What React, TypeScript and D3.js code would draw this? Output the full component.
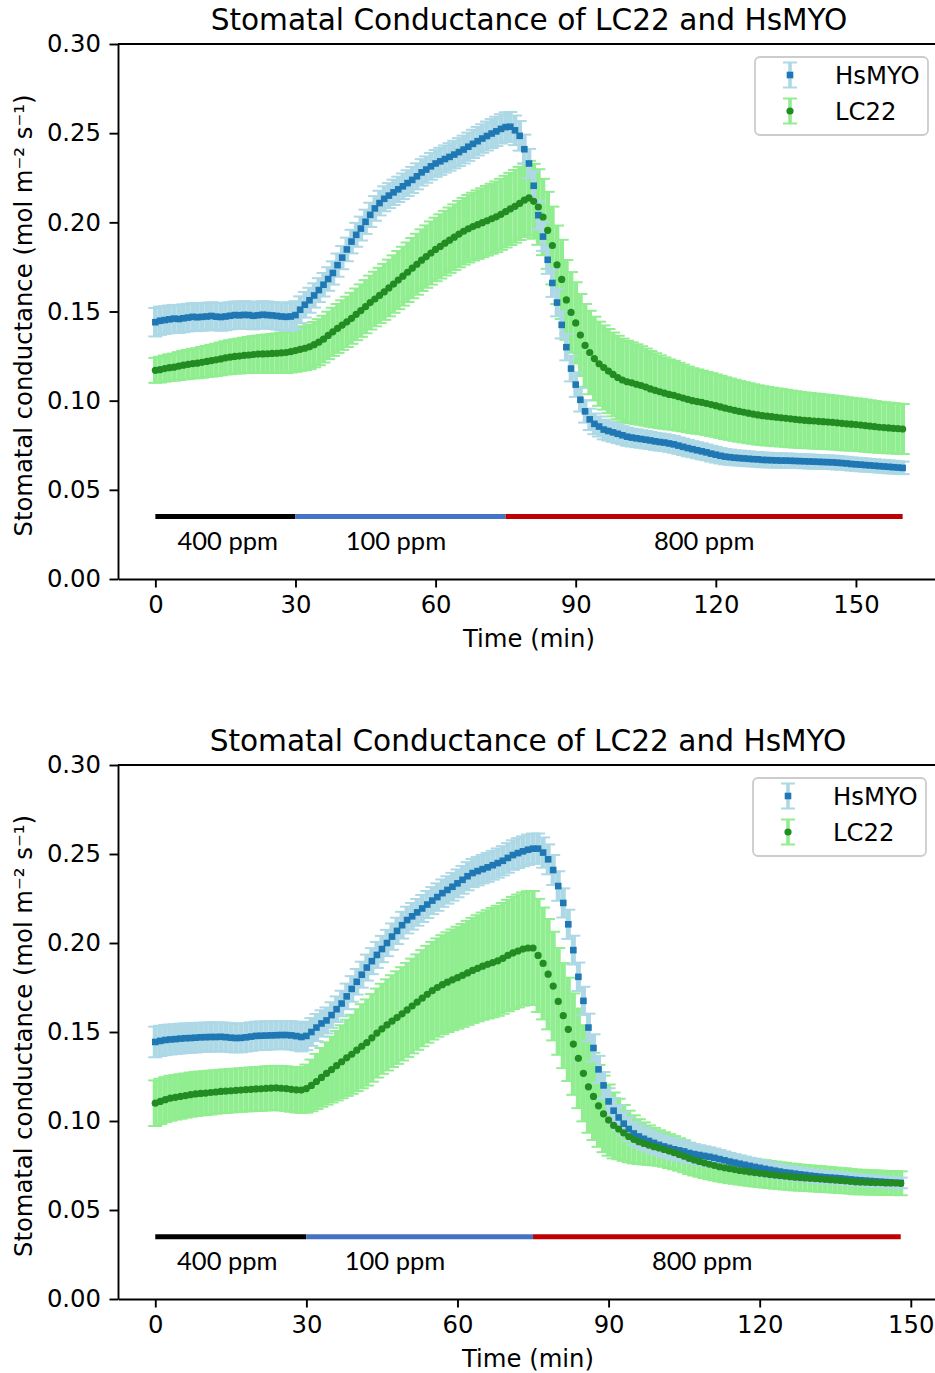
import { useEffect, useRef } from 'react';
import * as d3 from 'd3';

// Stomatal conductance, LC22 vs HsMYO – one reading per minute
const TITLE = 'Stomatal Conductance of LC22 and HsMYO';
const Y_LABEL = 'Stomatal conductance (mol m\u207B\u00B2 s\u207B\u00B9)';
const X_LABEL = 'Time (min)';
const SERIES = ['HsMYO', 'LC22'];
const Y_TICKS = [0, 0.05, 0.1, 0.15, 0.2, 0.25, 0.3];
const X_TICKS = [0, 30, 60, 90, 120, 150];

// CO2 steps
const ppmLabels = ['400 ppm', '100 ppm', '800 ppm'];
const ppmColors = ['#000000', '#4472C4', '#C00000'];
const ppmLevel = 0.035;
const ppmEdges1 = [0, 30, 75, 160];
const ppmEdges2 = [0, 30, 75, 148];
const ppmLabelAt1 = [15.5, 51.5, 117.5];
const ppmLabelAt2 = [14.3, 47.6, 108.6];

// ---- top panel (0–160 min) ----
const hsmyo1 = [
  0.1440, 0.1448, 0.1452, 0.1456, 0.1460, 0.1458, 0.1462, 0.1466, 0.1470, 0.1468,
  0.1470, 0.1472, 0.1475, 0.1471, 0.1469, 0.1472, 0.1476, 0.1480, 0.1479, 0.1481,
  0.1480, 0.1476, 0.1479, 0.1482, 0.1480, 0.1478, 0.1475, 0.1472, 0.1470, 0.1472,
  0.1480, 0.1510, 0.1538, 0.1563, 0.1590, 0.1620, 0.1650, 0.1682, 0.1716, 0.1760,
  0.1802, 0.1848, 0.1892, 0.1930, 0.1965, 0.2003, 0.2042, 0.2078, 0.2108, 0.2132,
  0.2150, 0.2168, 0.2185, 0.2202, 0.2220, 0.2238, 0.2258, 0.2280, 0.2296, 0.2314,
  0.2330, 0.2342, 0.2355, 0.2367, 0.2380, 0.2394, 0.2408, 0.2424, 0.2440, 0.2455,
  0.2470, 0.2484, 0.2498, 0.2510, 0.2524, 0.2534, 0.2536, 0.2516, 0.2485, 0.2410,
  0.2330, 0.2205, 0.2040, 0.1920, 0.1790, 0.1660, 0.1550, 0.1425, 0.1300, 0.1180,
  0.1090, 0.1005, 0.0940, 0.0895, 0.0870, 0.0855, 0.0838, 0.0830, 0.0822, 0.0814,
  0.0806, 0.0798, 0.0793, 0.0789, 0.0785, 0.0781, 0.0777, 0.0772, 0.0768, 0.0765,
  0.0760, 0.0755, 0.0748, 0.0741, 0.0734, 0.0728, 0.0722, 0.0716, 0.0710, 0.0703,
  0.0697, 0.0691, 0.0686, 0.0683, 0.0680, 0.0678, 0.0676, 0.0674, 0.0672, 0.0671,
  0.0668, 0.0667, 0.0666, 0.0665, 0.0664, 0.0664, 0.0663, 0.0662, 0.0661, 0.0660,
  0.0659, 0.0658, 0.0657, 0.0656, 0.0655, 0.0654, 0.0652, 0.0650, 0.0648, 0.0645,
  0.0643, 0.0641, 0.0639, 0.0637, 0.0635, 0.0633, 0.0631, 0.0629, 0.0627, 0.0625, 0.0623,
];
const hsmyoErr1 = [
  0.0080, 0.0079, 0.0078, 0.0078, 0.0077, 0.0078, 0.0078, 0.0077, 0.0077, 0.0078,
  0.0078, 0.0077, 0.0077, 0.0076, 0.0077, 0.0077, 0.0076, 0.0076, 0.0077, 0.0077,
  0.0076, 0.0076, 0.0075, 0.0076, 0.0076, 0.0075, 0.0076, 0.0077, 0.0078, 0.0080,
  0.0078, 0.0075, 0.0072, 0.0070, 0.0068, 0.0067, 0.0066, 0.0066, 0.0065, 0.0065,
  0.0065, 0.0066, 0.0066, 0.0067, 0.0067, 0.0068, 0.0068, 0.0069, 0.0069, 0.0070,
  0.0070, 0.0071, 0.0071, 0.0072, 0.0072, 0.0073, 0.0073, 0.0074, 0.0074, 0.0075,
  0.0075, 0.0076, 0.0076, 0.0077, 0.0077, 0.0078, 0.0078, 0.0079, 0.0079, 0.0080,
  0.0080, 0.0081, 0.0081, 0.0082, 0.0082, 0.0083, 0.0083, 0.0083, 0.0083, 0.0082,
  0.0082, 0.0081, 0.0080, 0.0080, 0.0079, 0.0078, 0.0077, 0.0076, 0.0074, 0.0072,
  0.0069, 0.0066, 0.0063, 0.0060, 0.0058, 0.0056, 0.0055, 0.0054, 0.0053, 0.0052,
  0.0051, 0.0051, 0.0050, 0.0050, 0.0049, 0.0049, 0.0048, 0.0048, 0.0048, 0.0047,
  0.0047, 0.0047, 0.0046, 0.0046, 0.0046, 0.0045, 0.0045, 0.0045, 0.0044, 0.0044,
  0.0044, 0.0043, 0.0043, 0.0043, 0.0042, 0.0042, 0.0042, 0.0042, 0.0041, 0.0041,
  0.0041, 0.0041, 0.0040, 0.0040, 0.0040, 0.0040, 0.0040, 0.0039, 0.0039, 0.0039,
  0.0039, 0.0039, 0.0038, 0.0038, 0.0038, 0.0038, 0.0038, 0.0037, 0.0037, 0.0037,
  0.0037, 0.0037, 0.0037, 0.0036, 0.0036, 0.0036, 0.0036, 0.0036, 0.0036, 0.0035, 0.0035,
];
const lc22_1 = [
  0.1170, 0.1174, 0.1180, 0.1185, 0.1188, 0.1194, 0.1199, 0.1203, 0.1208, 0.1210,
  0.1215, 0.1220, 0.1224, 0.1229, 0.1234, 0.1240, 0.1244, 0.1248, 0.1250, 0.1254,
  0.1256, 0.1259, 0.1261, 0.1262, 0.1263, 0.1265, 0.1266, 0.1268, 0.1270, 0.1275,
  0.1281, 0.1288, 0.1294, 0.1302, 0.1314, 0.1328, 0.1345, 0.1366, 0.1386, 0.1405,
  0.1424, 0.1442, 0.1462, 0.1484, 0.1505, 0.1527, 0.1550, 0.1570, 0.1590, 0.1610,
  0.1632, 0.1654, 0.1676, 0.1698, 0.1720, 0.1743, 0.1765, 0.1788, 0.1808, 0.1828,
  0.1848, 0.1865, 0.1883, 0.1900, 0.1917, 0.1934, 0.1950, 0.1964, 0.1976, 0.1987,
  0.1998, 0.2009, 0.2020, 0.2031, 0.2045, 0.2060, 0.2075, 0.2090, 0.2106, 0.2124,
  0.2137, 0.2118, 0.2086, 0.2030, 0.1955, 0.1870, 0.1762, 0.1680, 0.1565, 0.1495,
  0.1436, 0.1368, 0.1310, 0.1270, 0.1236, 0.1207, 0.1186, 0.1166, 0.1147, 0.1130,
  0.1116, 0.1106, 0.1100, 0.1092, 0.1085, 0.1076, 0.1066, 0.1058, 0.1050, 0.1042,
  0.1035, 0.1030, 0.1022, 0.1015, 0.1007, 0.1000, 0.0995, 0.0990, 0.0984, 0.0978,
  0.0972, 0.0965, 0.0958, 0.0952, 0.0946, 0.0940, 0.0935, 0.0930, 0.0925, 0.0920,
  0.0916, 0.0913, 0.0910, 0.0907, 0.0904, 0.0901, 0.0898, 0.0895, 0.0892, 0.0890,
  0.0888, 0.0886, 0.0884, 0.0882, 0.0880, 0.0878, 0.0876, 0.0873, 0.0870, 0.0868,
  0.0866, 0.0863, 0.0860, 0.0857, 0.0854, 0.0851, 0.0849, 0.0847, 0.0845, 0.0843, 0.0841,
];
const lc22Err1 = [
  0.0070, 0.0072, 0.0073, 0.0075, 0.0076, 0.0078, 0.0080, 0.0081, 0.0083, 0.0084,
  0.0086, 0.0087, 0.0089, 0.0090, 0.0092, 0.0093, 0.0095, 0.0096, 0.0098, 0.0099,
  0.0101, 0.0103, 0.0104, 0.0106, 0.0108, 0.0109, 0.0111, 0.0113, 0.0115, 0.0117,
  0.0119, 0.0121, 0.0123, 0.0125, 0.0127, 0.0129, 0.0131, 0.0133, 0.0135, 0.0137,
  0.0139, 0.0141, 0.0143, 0.0145, 0.0147, 0.0149, 0.0151, 0.0153, 0.0155, 0.0157,
  0.0159, 0.0161, 0.0163, 0.0165, 0.0167, 0.0169, 0.0171, 0.0173, 0.0175, 0.0177,
  0.0178, 0.0180, 0.0181, 0.0183, 0.0184, 0.0186, 0.0187, 0.0189, 0.0190, 0.0192,
  0.0193, 0.0195, 0.0196, 0.0198, 0.0199, 0.0201, 0.0202, 0.0204, 0.0205, 0.0207,
  0.0208, 0.0210, 0.0212, 0.0214, 0.0216, 0.0218, 0.0220, 0.0222, 0.0224, 0.0226,
  0.0228, 0.0230, 0.0232, 0.0234, 0.0235, 0.0236, 0.0236, 0.0236, 0.0235, 0.0234,
  0.0232, 0.0230, 0.0227, 0.0224, 0.0220, 0.0216, 0.0212, 0.0208, 0.0204, 0.0200,
  0.0196, 0.0193, 0.0190, 0.0187, 0.0184, 0.0182, 0.0180, 0.0178, 0.0177, 0.0176,
  0.0175, 0.0174, 0.0173, 0.0172, 0.0171, 0.0170, 0.0169, 0.0168, 0.0167, 0.0166,
  0.0165, 0.0164, 0.0163, 0.0162, 0.0161, 0.0160, 0.0159, 0.0158, 0.0157, 0.0156,
  0.0155, 0.0154, 0.0154, 0.0153, 0.0152, 0.0151, 0.0150, 0.0150, 0.0149, 0.0148,
  0.0147, 0.0146, 0.0146, 0.0145, 0.0144, 0.0143, 0.0142, 0.0142, 0.0141, 0.0140, 0.0140,
];

// ---- bottom panel (0–148 min) ----
const hsmyo2 = [
  0.1444, 0.1450, 0.1455, 0.1458, 0.1460, 0.1463, 0.1465, 0.1466, 0.1468, 0.1470,
  0.1471, 0.1472, 0.1472, 0.1473, 0.1471, 0.1468, 0.1466, 0.1467, 0.1470, 0.1474,
  0.1478, 0.1479, 0.1480, 0.1481, 0.1482, 0.1483, 0.1483, 0.1481, 0.1477, 0.1472,
  0.1478, 0.1500, 0.1525, 0.1548, 0.1565, 0.1595, 0.1628, 0.1660, 0.1700, 0.1742,
  0.1782, 0.1822, 0.1862, 0.1898, 0.1933, 0.1966, 0.2000, 0.2036, 0.2068, 0.2100,
  0.2129, 0.2150, 0.2172, 0.2194, 0.2216, 0.2238, 0.2258, 0.2280, 0.2298, 0.2316,
  0.2335, 0.2355, 0.2375, 0.2393, 0.2404, 0.2415, 0.2425, 0.2437, 0.2449, 0.2462,
  0.2478, 0.2494, 0.2505, 0.2515, 0.2524, 0.2530, 0.2530, 0.2508, 0.2470, 0.2410,
  0.2320, 0.2225, 0.2105, 0.1960, 0.1810, 0.1675, 0.1525, 0.1410, 0.1290, 0.1200,
  0.1110, 0.1058, 0.1020, 0.0985, 0.0955, 0.0930, 0.0913, 0.0900, 0.0888, 0.0877,
  0.0866, 0.0857, 0.0849, 0.0841, 0.0835, 0.0829, 0.0820, 0.0814, 0.0809, 0.0804,
  0.0799, 0.0793, 0.0786, 0.0779, 0.0772, 0.0766, 0.0760, 0.0754, 0.0748, 0.0742,
  0.0737, 0.0731, 0.0726, 0.0721, 0.0716, 0.0711, 0.0708, 0.0704, 0.0700, 0.0697,
  0.0693, 0.0690, 0.0687, 0.0684, 0.0682, 0.0680, 0.0678, 0.0675, 0.0672, 0.0669,
  0.0667, 0.0665, 0.0663, 0.0661, 0.0659, 0.0657, 0.0655, 0.0653, 0.0652,
];
const hsmyoErr2 = [
  0.0086, 0.0085, 0.0085, 0.0084, 0.0084, 0.0084, 0.0083, 0.0083, 0.0083, 0.0082,
  0.0082, 0.0082, 0.0082, 0.0081, 0.0081, 0.0081, 0.0081, 0.0081, 0.0080, 0.0080,
  0.0080, 0.0080, 0.0080, 0.0079, 0.0079, 0.0079, 0.0079, 0.0080, 0.0080, 0.0081,
  0.0080, 0.0078, 0.0076, 0.0074, 0.0073, 0.0072, 0.0072, 0.0072, 0.0072, 0.0072,
  0.0072, 0.0073, 0.0073, 0.0073, 0.0073, 0.0074, 0.0074, 0.0074, 0.0074, 0.0075,
  0.0075, 0.0075, 0.0075, 0.0076, 0.0076, 0.0076, 0.0077, 0.0077, 0.0077, 0.0078,
  0.0078, 0.0078, 0.0079, 0.0079, 0.0080, 0.0080, 0.0081, 0.0081, 0.0082, 0.0082,
  0.0083, 0.0083, 0.0084, 0.0084, 0.0085, 0.0085, 0.0085, 0.0085, 0.0084, 0.0084,
  0.0083, 0.0082, 0.0082, 0.0081, 0.0080, 0.0079, 0.0078, 0.0077, 0.0076, 0.0075,
  0.0074, 0.0072, 0.0070, 0.0068, 0.0066, 0.0064, 0.0062, 0.0061, 0.0060, 0.0059,
  0.0058, 0.0058, 0.0057, 0.0057, 0.0056, 0.0056, 0.0056, 0.0055, 0.0055, 0.0054,
  0.0053, 0.0052, 0.0051, 0.0050, 0.0049, 0.0048, 0.0047, 0.0046, 0.0045, 0.0044,
  0.0043, 0.0042, 0.0041, 0.0040, 0.0039, 0.0038, 0.0038, 0.0037, 0.0036, 0.0036,
  0.0035, 0.0035, 0.0034, 0.0034, 0.0033, 0.0033, 0.0033, 0.0032, 0.0032, 0.0032,
  0.0031, 0.0031, 0.0031, 0.0031, 0.0030, 0.0030, 0.0030, 0.0030, 0.0030,
];
const lc22_2 = [
  0.1100, 0.1110, 0.1120, 0.1128, 0.1133, 0.1138, 0.1143, 0.1148, 0.1152, 0.1155,
  0.1157, 0.1160, 0.1163, 0.1166, 0.1168, 0.1170, 0.1172, 0.1174, 0.1176, 0.1178,
  0.1180, 0.1181, 0.1183, 0.1185, 0.1186, 0.1184, 0.1182, 0.1178, 0.1175, 0.1174,
  0.1182, 0.1200, 0.1222, 0.1245, 0.1267, 0.1289, 0.1311, 0.1333, 0.1355, 0.1375,
  0.1398, 0.1420, 0.1441, 0.1467, 0.1494, 0.1518, 0.1540, 0.1561, 0.1581, 0.1602,
  0.1624, 0.1646, 0.1668, 0.1690, 0.1712, 0.1732, 0.1750, 0.1766, 0.1780, 0.1793,
  0.1805, 0.1818, 0.1832, 0.1846, 0.1858, 0.1870, 0.1880, 0.1890, 0.1900, 0.1914,
  0.1930, 0.1944, 0.1955, 0.1966, 0.1972, 0.1972, 0.1930, 0.1885, 0.1825, 0.1758,
  0.1672, 0.1592, 0.1515, 0.1432, 0.1352, 0.1268, 0.1192, 0.1138, 0.1085, 0.1040,
  0.1005, 0.0975, 0.0955, 0.0933, 0.0913, 0.0897, 0.0884, 0.0874, 0.0864, 0.0856,
  0.0848, 0.0840, 0.0831, 0.0822, 0.0812, 0.0802, 0.0790, 0.0781, 0.0773, 0.0765,
  0.0757, 0.0750, 0.0743, 0.0737, 0.0732, 0.0727, 0.0722, 0.0718, 0.0714, 0.0710,
  0.0706, 0.0703, 0.0699, 0.0696, 0.0693, 0.0690, 0.0687, 0.0684, 0.0682, 0.0680,
  0.0678, 0.0676, 0.0674, 0.0672, 0.0670, 0.0668, 0.0666, 0.0664, 0.0661, 0.0658,
  0.0657, 0.0656, 0.0655, 0.0654, 0.0653, 0.0652, 0.0652, 0.0651, 0.0650,
];
const lc22Err2 = [
  0.0128, 0.0127, 0.0126, 0.0126, 0.0125, 0.0125, 0.0124, 0.0124, 0.0124, 0.0123,
  0.0123, 0.0123, 0.0122, 0.0122, 0.0122, 0.0122, 0.0122, 0.0122, 0.0122, 0.0123,
  0.0123, 0.0123, 0.0124, 0.0124, 0.0124, 0.0125, 0.0125, 0.0126, 0.0127, 0.0128,
  0.0135, 0.0145, 0.0155, 0.0165, 0.0175, 0.0185, 0.0195, 0.0205, 0.0214, 0.0222,
  0.0230, 0.0236, 0.0242, 0.0246, 0.0250, 0.0253, 0.0256, 0.0258, 0.0260, 0.0262,
  0.0264, 0.0266, 0.0268, 0.0270, 0.0272, 0.0274, 0.0276, 0.0278, 0.0280, 0.0283,
  0.0286, 0.0289, 0.0292, 0.0295, 0.0298, 0.0301, 0.0304, 0.0307, 0.0309, 0.0311,
  0.0313, 0.0315, 0.0317, 0.0318, 0.0319, 0.0320, 0.0318, 0.0314, 0.0310, 0.0305,
  0.0300, 0.0295, 0.0290, 0.0285, 0.0280, 0.0270, 0.0258, 0.0245, 0.0230, 0.0215,
  0.0200, 0.0185, 0.0170, 0.0157, 0.0145, 0.0135, 0.0126, 0.0118, 0.0111, 0.0105,
  0.0100, 0.0097, 0.0095, 0.0093, 0.0091, 0.0090, 0.0088, 0.0087, 0.0086, 0.0085,
  0.0084, 0.0083, 0.0082, 0.0081, 0.0081, 0.0080, 0.0079, 0.0079, 0.0078, 0.0078,
  0.0077, 0.0077, 0.0076, 0.0076, 0.0075, 0.0075, 0.0074, 0.0074, 0.0073, 0.0073,
  0.0072, 0.0072, 0.0072, 0.0071, 0.0071, 0.0070, 0.0070, 0.0070, 0.0069, 0.0069,
  0.0069, 0.0068, 0.0068, 0.0068, 0.0068, 0.0067, 0.0067, 0.0067, 0.0067,
];

const FONT = '"DejaVu Sans", sans-serif';
const PPM_FONT = 'Lato, "Open Sans", sans-serif';
const HS_COLOR = '#1f77b4';
const HS_ERR = '#add8e6';
const LC_COLOR = '#228b22';
const LC_ERR = '#90ee90';

type Panel = {
  top: number;
  bottom: number;
  left: number;
  right: number;
  xDomain: [number, number];
  hs: number[];
  hsErr: number[];
  lc: number[];
  lcErr: number[];
  ppmEdges: number[];
  ppmLabelAt: number[];
};

const PANELS: Panel[] = [
  {
    top: 44, bottom: 579, left: 118, right: 940, xDomain: [-8, 168],
    hs: hsmyo1, hsErr: hsmyoErr1, lc: lc22_1, lcErr: lc22Err1,
    ppmEdges: ppmEdges1, ppmLabelAt: ppmLabelAt1,
  },
  {
    top: 765, bottom: 1299, left: 118, right: 938, xDomain: [-7.4, 155.4],
    hs: hsmyo2, hsErr: hsmyoErr2, lc: lc22_2, lcErr: lc22Err2,
    ppmEdges: ppmEdges2, ppmLabelAt: ppmLabelAt2,
  },
];

function errorBars(g: any, x: any, y: any, mean: number[], err: number[], color: string) {
  const pts = mean.map((v, i) => ({ t: i, lo: v - err[i], hi: v + err[i] }));
  const barW = x(1) - x(0);
  const eg = g.append('g');
  eg.selectAll('line.bar')
    .data(pts)
    .join('line')
    .attr('class', 'bar')
    .attr('x1', (d: any) => x(d.t))
    .attr('x2', (d: any) => x(d.t))
    .attr('y1', (d: any) => y(d.lo))
    .attr('y2', (d: any) => y(d.hi))
    .attr('stroke', color)
    .attr('stroke-width', barW);
  ['lo', 'hi'].forEach((k) => {
    eg.selectAll(`line.cap-${k}`)
      .data(pts)
      .join('line')
      .attr('class', `cap-${k}`)
      .attr('x1', (d: any) => x(d.t) - 7)
      .attr('x2', (d: any) => x(d.t) + 7)
      .attr('y1', (d: any) => y(d[k]))
      .attr('y2', (d: any) => y(d[k]))
      .attr('stroke', color)
      .attr('stroke-width', 2);
  });
}

function drawPanel(svg: any, p: Panel) {
  const x = d3.scaleLinear().domain(p.xDomain).range([p.left, p.right]);
  const y = d3.scaleLinear().domain([0, 0.3]).range([p.bottom, p.top]);
  const g = svg.append('g').attr('font-family', FONT);

  // CO2 step bars + labels
  ppmLabels.forEach((lab, i) => {
    g.append('line')
      .attr('x1', x(p.ppmEdges[i]))
      .attr('x2', x(p.ppmEdges[i + 1]))
      .attr('y1', y(ppmLevel))
      .attr('y2', y(ppmLevel))
      .attr('stroke', ppmColors[i])
      .attr('stroke-width', 5);
    g.append('text')
      .attr('x', x(p.ppmLabelAt[i]))
      .attr('y', y(ppmLevel) + 33)
      .attr('text-anchor', 'middle')
      .attr('font-family', PPM_FONT)
      .attr('font-size', 25.5)
      .attr('fill', '#000')
      .text(lab);
  });

  // error bars first, markers on top
  errorBars(g, x, y, p.lc, p.lcErr, LC_ERR);
  errorBars(g, x, y, p.hs, p.hsErr, HS_ERR);

  g.append('g')
    .selectAll('rect')
    .data(p.hs)
    .join('rect')
    .attr('x', (_: number, i: number) => x(i) - 3.3)
    .attr('y', (d: number) => y(d) - 3.3)
    .attr('width', 6.6)
    .attr('height', 6.6)
    .attr('fill', HS_COLOR);

  g.append('g')
    .selectAll('circle')
    .data(p.lc)
    .join('circle')
    .attr('cx', (_: number, i: number) => x(i))
    .attr('cy', (d: number) => y(d))
    .attr('r', 3.6)
    .attr('fill', LC_COLOR);

  // axes
  const yAxis = g.append('g')
    .attr('transform', `translate(${p.left},0)`)
    .call(d3.axisLeft(y).tickValues(Y_TICKS).tickFormat(d3.format('.2f')).tickSize(8.5).tickPadding(8.5).tickSizeOuter(0));
  const xAxis = g.append('g')
    .attr('transform', `translate(0,${p.bottom})`)
    .call(d3.axisBottom(x).tickValues(X_TICKS).tickFormat(d3.format('d')).tickSize(8.5).tickPadding(8.7).tickSizeOuter(0));
  [yAxis, xAxis].forEach((a) => {
    a.attr('font-family', FONT).attr('font-size', 24.3);
    a.selectAll('path, line').attr('stroke', '#000').attr('stroke-width', 1.9);
    a.selectAll('text').attr('fill', '#000');
  });
  g.append('line')
    .attr('x1', p.left).attr('x2', p.right)
    .attr('y1', p.top).attr('y2', p.top)
    .attr('stroke', '#000').attr('stroke-width', 1.9);
  g.append('line')
    .attr('x1', p.right).attr('x2', p.right)
    .attr('y1', p.top).attr('y2', p.bottom)
    .attr('stroke', '#000').attr('stroke-width', 1.9);

  // titles
  const cx = (p.left + p.right) / 2;
  g.append('text')
    .attr('x', cx)
    .attr('y', p.top - 14)
    .attr('text-anchor', 'middle')
    .attr('font-size', 29.6)
    .text(TITLE);
  g.append('text')
    .attr('x', cx)
    .attr('y', p.bottom + 68)
    .attr('text-anchor', 'middle')
    .attr('font-size', 24.3)
    .text(X_LABEL);
  g.append('text')
    .attr('transform', `translate(23,${(p.top + p.bottom) / 2 + 4}) rotate(-90)`)
    .attr('text-anchor', 'middle')
    .attr('dominant-baseline', 'central')
    .attr('font-size', 24.3)
    .text(Y_LABEL);

  // legend
  const bw = 173;
  const bh = 78;
  const bx = p.right - 12 - bw;
  const by = p.top + 13;
  const lg = g.append('g');
  lg.append('rect')
    .attr('x', bx).attr('y', by)
    .attr('width', bw).attr('height', bh)
    .attr('rx', 5)
    .attr('fill', '#fff').attr('fill-opacity', 0.8)
    .attr('stroke', '#cccccc').attr('stroke-width', 1.8);
  const entries = [
    { name: SERIES[0], color: HS_COLOR, err: HS_ERR, shape: 'square' },
    { name: SERIES[1], color: LC_COLOR, err: LC_ERR, shape: 'circle' },
  ];
  entries.forEach((e, i) => {
    const hx = bx + 35;
    const hy = by + 18 + i * 36;
    lg.append('line').attr('x1', hx).attr('x2', hx).attr('y1', hy - 12.5).attr('y2', hy + 12.5)
      .attr('stroke', e.err).attr('stroke-width', 3.6);
    [-12.5, 12.5].forEach((dy) => {
      lg.append('line').attr('x1', hx - 7).attr('x2', hx + 7).attr('y1', hy + dy).attr('y2', hy + dy)
        .attr('stroke', e.err).attr('stroke-width', 2);
    });
    if (e.shape === 'square') {
      lg.append('rect').attr('x', hx - 3.3).attr('y', hy - 3.3).attr('width', 6.6).attr('height', 6.6).attr('fill', e.color);
    } else {
      lg.append('circle').attr('cx', hx).attr('cy', hy).attr('r', 3.6).attr('fill', e.color);
    }
    lg.append('text')
      .attr('x', bx + 80)
      .attr('y', hy)
      .attr('dy', '0.35em')
      .attr('font-size', 24.3)
      .text(e.name);
  });
}

export default function App() {
  const svgRef = useRef<SVGSVGElement>(null);

  useEffect(() => {
    if (!svgRef.current) return;
    const svg = d3.select(svgRef.current);
    svg.selectAll('*').remove();
    PANELS.forEach((p) => drawPanel(svg, p));
  }, []);

  return (
    <svg
      ref={svgRef}
      width={935}
      height={1373}
      style={{ position: 'absolute', left: 0, top: 0, background: '#fff', overflow: 'hidden' }}
    />
  );
}
